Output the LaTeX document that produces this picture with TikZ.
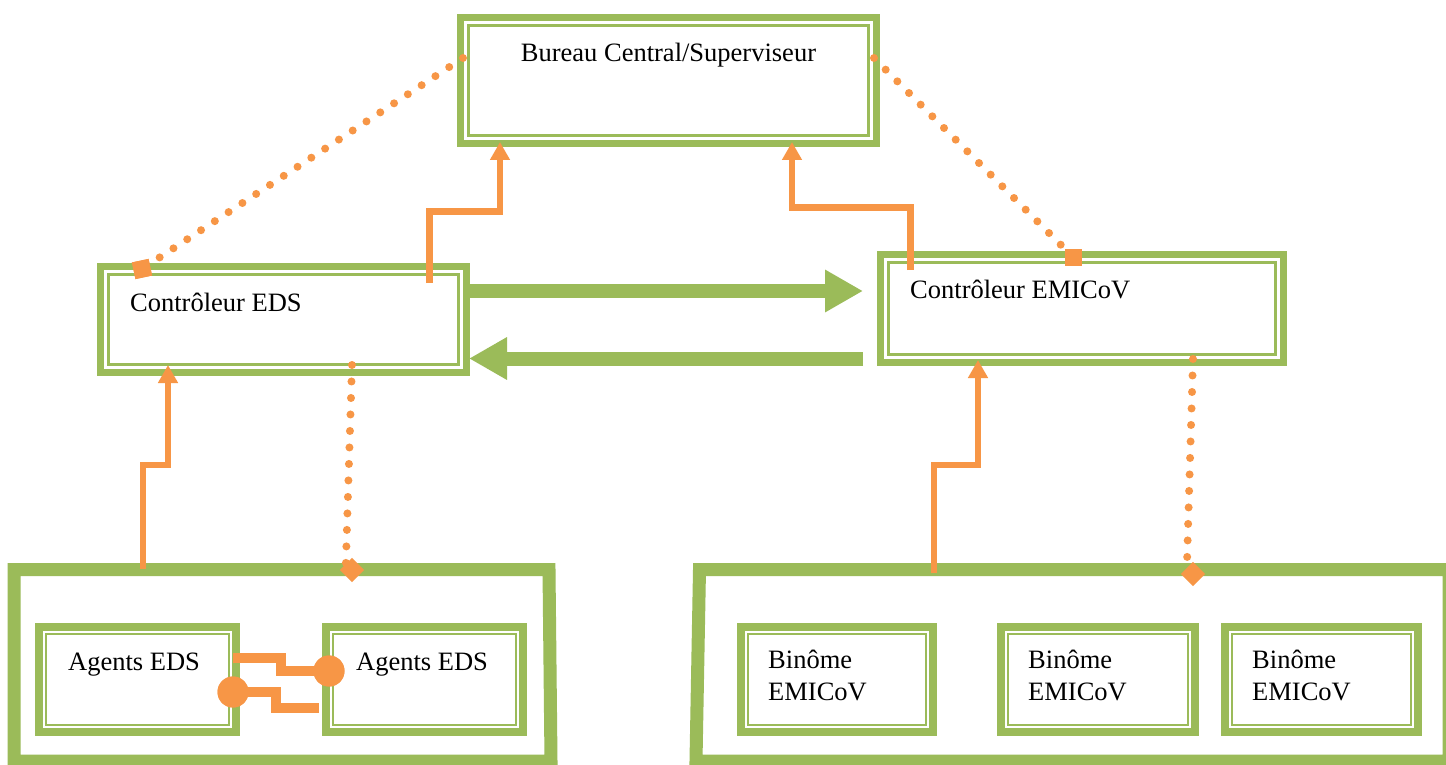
\documentclass[tikz,border=0pt]{standalone}
\usepackage{fontspec}
\setmainfont{Liberation Serif}
\usetikzlibrary{arrows.meta}
\definecolor{gr}{HTML}{9BBB59}
\definecolor{og}{HTML}{F79646}
\begin{document}
\begin{tikzpicture}[x=1pt,y=-1pt,
  bigbox/.style={draw=gr, line width=7pt, inner sep=0pt,
    path picture={\draw[gr,line width=2.5pt] ([shift={(8pt,-8pt)}]path picture bounding box.north west) rectangle ([shift={(-8pt,8pt)}]path picture bounding box.south east);}},
  smallbox/.style={draw=gr, line width=8pt, inner sep=0pt, minimum height=105pt,
    path picture={\draw[gr,line width=2pt] ([shift={(7pt,-7pt)}]path picture bounding box.north west) rectangle ([shift={(-7pt,7pt)}]path picture bounding box.south east);}},
  group/.style={draw=gr, line width=13pt, miter limit=10},
  txt/.style={inner sep=0pt, font=\fontsize{26.5}{32}\selectfont, align=left},
  sline/.style={draw=og, line width=6.5pt, -{Triangle[width=19pt,length=18pt]}},
  aline/.style={draw=og, line width=10pt},
  dotline/.style={draw=og, line width=8pt, line cap=round, dash pattern=on 0pt off 16.5pt},
  garrow/.style={draw=gr, line width=14pt, -{Triangle[width=40pt,length=38pt]}},
  sq/.style={fill=og, minimum size=17pt, inner sep=0pt},
  blob/.style={circle, fill=og, minimum size=31pt, inner sep=0pt}
]
\useasboundingbox (0,0) rectangle (1446,765);
\fill[white] (0,0) rectangle (1446,765);

% group frames
\draw[group] (14,569.5) -- (549,569.5) -- (551,761) -- (14,761) -- cycle;
\draw[group] (699.5,569.5) -- (1449,569.5) -- (1449,761) -- (696,761) -- cycle;

% boxes
\node[bigbox, minimum width=416pt, minimum height=126pt] (bc) at (668.5,80.5) {};
\node[bigbox, minimum width=366pt, minimum height=106pt] (ceds) at (283.5,319.5) {};
\node[bigbox, minimum width=403pt, minimum height=108pt] (cemi) at (1082,308.5) {};
\node[smallbox, minimum width=197pt] (ag1) at (137.5,679.5) {};
\node[smallbox, minimum width=197pt] (ag2) at (424.5,679.5) {};
\node[smallbox, minimum width=192pt] (bi1) at (837,679.5) {};
\node[smallbox, minimum width=194pt] (bi2) at (1098,679.5) {};
\node[smallbox, minimum width=193pt] (bi3) at (1321.5,679.5) {};

% texts
\node[txt, anchor=base] (tbc) at (668.5,62) {Bureau Central/Superviseur};
\node[txt, anchor=base west] (tceds) at (130,311) {Contrôleur EDS};
\node[txt, anchor=base west] (tcemi) at (910,298) {Contrôleur EMICoV};
\node[txt, anchor=base west] (tag1) at (68,670) {Agents EDS};
\node[txt, anchor=base west] (tag2) at (356,670) {Agents EDS};
\node[txt, anchor=base west] (tbi1a) at (768,668) {Binôme};
\node[txt, anchor=base west] (tbi1b) at (768,700) {EMICoV};
\node[txt, anchor=base west] (tbi2a) at (1028,668) {Binôme};
\node[txt, anchor=base west] (tbi2b) at (1028,700) {EMICoV};
\node[txt, anchor=base west] (tbi3a) at (1252,668) {Binôme};
\node[txt, anchor=base west] (tbi3b) at (1252,700) {EMICoV};

% green arrows between controllers
\coordinate (g1s) at (470,291);
\coordinate (g1e) at (863,291);
\coordinate (g2s) at (863,358.5);
\coordinate (g2e) at (469,358.5);
\draw[garrow] (g1s) -- (g1e);
\draw[garrow] (g2s) -- (g2e);

% solid orange connectors
\coordinate (a1s) at (429.5,283);
\coordinate (a1e) at (500,142);
\draw[sline] (a1s) -- (429.5,211.5) -- (500,211.5) -- (a1e);
\coordinate (a2s) at (910.5,270);
\coordinate (a2e) at (792,142);
\draw[sline] (a2s) -- (910.5,207.5) -- (792,207.5) -- (a2e);
\coordinate (a3s) at (143,569);
\coordinate (a3e) at (168,365);
\draw[sline] (a3s) -- (143,465) -- (168,465) -- (a3e);
\coordinate (a4s) at (934,573);
\coordinate (a4e) at (978,360);
\draw[sline] (a4s) -- (934,465) -- (978,465) -- (a4e);

% dotted connectors
\coordinate (d1s) at (463,58);
\node[sq, rotate=12] (m1) at (142,269) {};
\draw[dotline] (d1s) -- (m1.center);
\node[sq, rotate=12] at (142,269) {};
\coordinate (d2s) at (874,58);
\node[sq] (m2) at (1073,257) {};
\draw[dotline] (d2s) -- (m2.center);
\node[sq] at (1073,257) {};
\coordinate (d3s) at (352,365);
\node[sq, rotate=45] (m3) at (352,570) {};
\draw[dotline] (d3s) -- (m3.north);
\coordinate (d4s) at (1193,359);
\node[sq, rotate=45] (m4) at (1193,574) {};
\draw[dotline] (d4s) -- (m4.north);

% agents links
\node[blob] (c1) at (329,671) {};
\node[blob] (c2) at (233,692) {};
\coordinate (l1s) at (233,658);
\coordinate (l2e) at (319,708);
\draw[aline] (l1s) -- (281,658) -- (281,671) -- (c1.center);
\draw[aline] (c2.center) -- (276,692) -- (276,708) -- (l2e);
\node[blob] at (c1) {};
\node[blob] at (c2) {};
\end{tikzpicture}
\end{document}
